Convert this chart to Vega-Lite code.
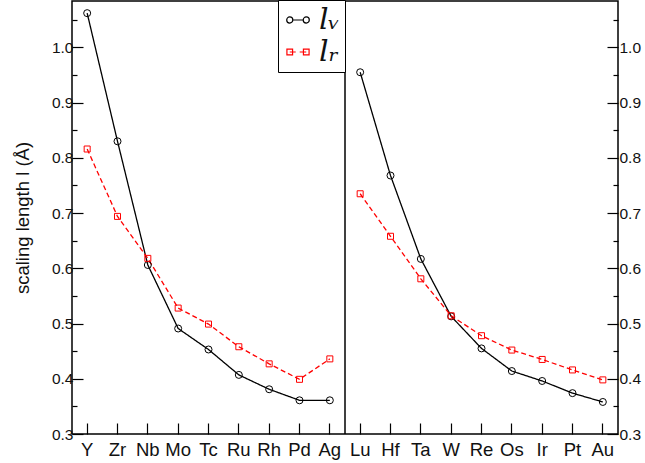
{
  "$schema": "https://vega.github.io/schema/vega-lite/v6.json",
  "autosize": {"type": "none"},
  "padding": {"left": 72, "top": 1, "right": 27, "bottom": 29},
  "width": 546,
  "height": 433,
  "background": "white",
  "config": {
    "view": {"stroke": "black", "strokeWidth": 1.5},
    "font": "Liberation Sans"
  },
  "data": {
    "values": [
      {"el": "Y", "panel": "A", "series": "lv", "value": 1.062},
      {"el": "Zr", "panel": "A", "series": "lv", "value": 0.830},
      {"el": "Nb", "panel": "A", "series": "lv", "value": 0.606},
      {"el": "Mo", "panel": "A", "series": "lv", "value": 0.491},
      {"el": "Tc", "panel": "A", "series": "lv", "value": 0.453},
      {"el": "Ru", "panel": "A", "series": "lv", "value": 0.407},
      {"el": "Rh", "panel": "A", "series": "lv", "value": 0.381},
      {"el": "Pd", "panel": "A", "series": "lv", "value": 0.361},
      {"el": "Ag", "panel": "A", "series": "lv", "value": 0.361},
      {"el": "Y", "panel": "A", "series": "lr", "value": 0.816},
      {"el": "Zr", "panel": "A", "series": "lr", "value": 0.694},
      {"el": "Nb", "panel": "A", "series": "lr", "value": 0.618},
      {"el": "Mo", "panel": "A", "series": "lr", "value": 0.528},
      {"el": "Tc", "panel": "A", "series": "lr", "value": 0.499},
      {"el": "Ru", "panel": "A", "series": "lr", "value": 0.458},
      {"el": "Rh", "panel": "A", "series": "lr", "value": 0.427},
      {"el": "Pd", "panel": "A", "series": "lr", "value": 0.399},
      {"el": "Ag", "panel": "A", "series": "lr", "value": 0.436},
      {"el": "Lu", "panel": "B", "series": "lv", "value": 0.955},
      {"el": "Hf", "panel": "B", "series": "lv", "value": 0.768},
      {"el": "Ta", "panel": "B", "series": "lv", "value": 0.617},
      {"el": "W", "panel": "B", "series": "lv", "value": 0.513},
      {"el": "Re", "panel": "B", "series": "lv", "value": 0.455},
      {"el": "Os", "panel": "B", "series": "lv", "value": 0.414},
      {"el": "Ir", "panel": "B", "series": "lv", "value": 0.396},
      {"el": "Pt", "panel": "B", "series": "lv", "value": 0.374},
      {"el": "Au", "panel": "B", "series": "lv", "value": 0.358},
      {"el": "Lu", "panel": "B", "series": "lr", "value": 0.735},
      {"el": "Hf", "panel": "B", "series": "lr", "value": 0.658},
      {"el": "Ta", "panel": "B", "series": "lr", "value": 0.581},
      {"el": "W", "panel": "B", "series": "lr", "value": 0.514},
      {"el": "Re", "panel": "B", "series": "lr", "value": 0.478},
      {"el": "Os", "panel": "B", "series": "lr", "value": 0.452},
      {"el": "Ir", "panel": "B", "series": "lr", "value": 0.435},
      {"el": "Pt", "panel": "B", "series": "lr", "value": 0.416},
      {"el": "Au", "panel": "B", "series": "lr", "value": 0.398}
    ]
  },
  "layer": [
    {
      "mark": {"type": "line", "strokeWidth": 1.3},
      "encoding": {
        "x": {
          "field": "el", "type": "nominal", "bandPosition": 0.5,
          "scale": {"type": "band", "paddingInner": 0, "paddingOuter": 0,
            "domain": ["Y","Zr","Nb","Mo","Tc","Ru","Rh","Pd","Ag","Lu","Hf","Ta","W","Re","Os","Ir","Pt","Au"]},
          "axis": {
            "orient": "bottom", "title": null, "bandPosition": 0.5,
            "domain": false, "grid": false, "labelAngle": 0,
            "tickSize": -11, "tickColor": "black", "tickWidth": 1.2,
            "labelPadding": 17, "labelFontSize": 18.5, "labelColor": "#111",
            "labelBaseline": "top"
          }
        },
        "y": {
          "field": "value", "type": "quantitative",
          "scale": {"domain": [0.3, 1.084], "nice": false, "zero": false},
          "axis": {
            "orient": "left",
            "values": [0.3,0.35,0.4,0.45,0.5,0.55,0.6,0.65,0.7,0.75,0.8,0.85,0.9,0.95,1.0,1.05],
            "labelExpr": "round(datum.value*100)%10==0 ? format(datum.value,'.1f') : ''",
            "tickSize": {"condition": {"test": "round(datum.value*100)%10==0", "value": -11}, "value": -5},
            "tickColor": "black", "tickWidth": 1.2,
            "domain": false, "grid": false,
            "labelFontSize": 15.5, "labelColor": "#111", "labelPadding": 10,
            "title": "scaling length  l  (Å)", "titleFontSize": 18.5,
            "titleFontWeight": "normal", "titleColor": "#111", "titlePadding": 19
          }
        },
        "color": {
          "field": "series", "type": "nominal",
          "scale": {"domain": ["lv", "lr"], "range": ["#000000", "#ff0000"]},
          "legend": null
        },
        "strokeDash": {
          "field": "series", "type": "nominal",
          "scale": {"domain": ["lv", "lr"], "range": [[1, 0], [5, 3]]},
          "legend": null
        },
        "detail": {"field": "panel"}
      }
    },
    {
      "mark": {"type": "point", "filled": false, "strokeWidth": 1, "opacity": 1},
      "encoding": {
        "x": {"field": "el", "type": "nominal", "bandPosition": 0.5},
        "y": {
          "field": "value", "type": "quantitative",
          "scale": {"domain": [0.3, 1.084], "nice": false, "zero": false},
          "axis": {
            "orient": "right",
            "values": [0.3,0.35,0.4,0.45,0.5,0.55,0.6,0.65,0.7,0.75,0.8,0.85,0.9,0.95,1.0,1.05],
            "labelExpr": "round(datum.value*100)%10==0 ? format(datum.value,'.1f') : ''",
            "tickSize": {"condition": {"test": "round(datum.value*100)%10==0", "value": -11}, "value": -5},
            "tickColor": "black", "tickWidth": 1.2,
            "domain": false, "grid": false,
            "labelFontSize": 15.5, "labelColor": "#111", "labelPadding": 12,
            "title": null
          }
        },
        "color": {
          "field": "series", "type": "nominal",
          "legend": {
            "orient": "none", "legendX": 206, "legendY": -1,
            "title": null, "strokeColor": "black", "fillColor": "white",
            "padding": 5, "symbolSize": 511, "symbolStrokeWidth": 1.2,
            "symbolType": {"expr": "datum.value == 'lv' ? 'M-1 0A0.27 0.27 0 1 1 -0.46 0A0.27 0.27 0 1 1 -1 0ZM0.46 0A0.27 0.27 0 1 1 1 0A0.27 0.27 0 1 1 0.46 0ZM-0.46 0L0.46 0' : 'M-0.98 -0.25L-0.48 -0.25L-0.48 0.25L-0.98 0.25ZM0.48 -0.25L0.98 -0.25L0.98 0.25L0.48 0.25ZM-0.73 0L-0.2 0M0.15 0L0.73 0'"},
            "labelFont": "DejaVu Serif", "labelFontStyle": "italic",
            "labelFontSize": 30, "labelOffset": 6, "rowPadding": 2,
            "labelColor": "#111",
            "labelExpr": "datum.value == 'lv' ? 'lᵥ' : 'lᵣ'"
          }
        },
        "shape": {
          "field": "series", "type": "nominal",
          "scale": {"domain": ["lv", "lr"], "range": ["circle", "square"]},
          "legend": null
        },
        "size": {
          "field": "series", "type": "ordinal",
          "scale": {"domain": ["lv", "lr"], "range": [49, 36]},
          "legend": null
        }
      }
    },
    {
      "data": {"values": [{"el": "Ag"}]},
      "mark": {"type": "rule", "color": "black", "strokeWidth": 1.5},
      "encoding": {
        "x": {"field": "el", "type": "nominal", "bandPosition": 1}
      }
    }
  ],
  "resolve": {"scale": {"y": "independent"}, "legend": {"color": "independent"}}
}
